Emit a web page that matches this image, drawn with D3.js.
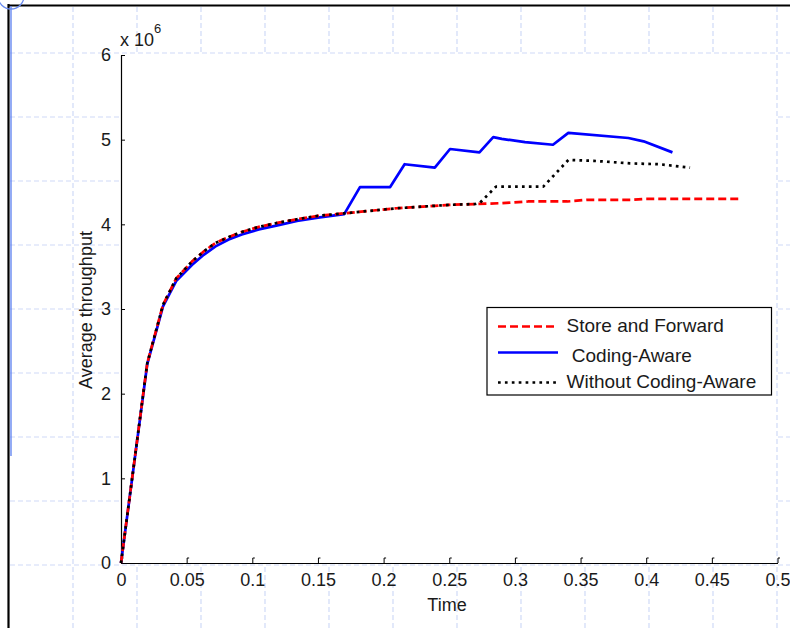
<!DOCTYPE html>
<html><head><meta charset="utf-8">
<script src="https://cdn.jsdelivr.net/npm/d3@7"></script>
<style>
html,body{margin:0;padding:0;background:#fff;}
text{font-family:"Liberation Sans",Arial,sans-serif;fill:#1a1a1a;}
</style></head>
<body>
<svg id="c" width="790" height="628"></svg>
<script>
// ---- data (values in units of 10^6) ----
const sfTime = [0,0.02,0.032,0.042,0.054,0.063,0.072,0.082,0.092,0.105,0.12,0.134,0.15,0.17,0.19,0.21,0.23,0.25,0.27,0.29,0.31,0.34,0.355,0.39,0.40,0.43,0.471];
const sfValue = [0,2.36,3.05,3.36,3.56,3.68,3.78,3.85,3.91,3.97,4.02,4.06,4.10,4.13,4.16,4.19,4.21,4.23,4.24,4.25,4.27,4.27,4.29,4.29,4.30,4.30,4.30];

const caTime = [0,0.02,0.032,0.042,0.054,0.063,0.072,0.082,0.092,0.105,0.12,0.134,0.15,0.17,0.182,0.205,0.216,0.239,0.2506,0.273,0.2835,0.29,0.3077,0.329,0.3407,0.3864,0.398,0.42];
const caValue = [0,2.35,3.03,3.33,3.52,3.64,3.74,3.82,3.88,3.94,3.99,4.04,4.08,4.12,4.44,4.44,4.71,4.67,4.89,4.85,5.03,5.01,4.97,4.94,5.08,5.02,4.98,4.85];

const woTime = [0,0.02,0.032,0.042,0.054,0.063,0.072,0.082,0.092,0.105,0.12,0.134,0.15,0.17,0.19,0.21,0.23,0.25,0.27,0.2734,0.2856,0.3216,0.3407,0.36,0.3877,0.41,0.4334];
const woValue = [0,2.36,3.05,3.36,3.56,3.68,3.78,3.85,3.91,3.97,4.02,4.06,4.10,4.13,4.16,4.19,4.21,4.23,4.24,4.255,4.445,4.445,4.76,4.75,4.72,4.71,4.67];

const xTicks = [0,0.05,0.1,0.15,0.2,0.25,0.3,0.35,0.4,0.45,0.5];
const xTickLabels = ["0","0.05","0.1","0.15","0.2","0.25","0.3","0.35","0.4","0.45","0.5"];
const yTicks = [0,1,2,3,4,5,6];
const yTickLabels = ["0","1","2","3","4","5","6"];
const seriesNames = ["Store and Forward"," Coding-Aware","Without Coding-Aware"];
const xLabel = "Time", yLabel = "Average throughput";

// ---- layout ----
const svg = d3.select("#c");
const W = 790, H = 628;
const x = d3.scaleLinear().domain([0,0.5]).range([121,777.5]);
const y = d3.scaleLinear().domain([0,6]).range([563,55]);

// page background grid (document guide lines)
const bg = svg.append("g");
const gridCol = "#cfdaf7";
d3.range(73, W, 64).forEach(gx => bg.append("line").attr("x1",gx).attr("x2",gx).attr("y1",7).attr("y2",H)
  .attr("stroke",gridCol).attr("stroke-width",1.2).attr("stroke-dasharray","5,3"));
d3.range(53, H, 64).forEach(gy => bg.append("line").attr("x1",10).attr("x2",W).attr("y1",gy).attr("y2",gy)
  .attr("stroke",gridCol).attr("stroke-width",1.2).attr("stroke-dasharray","5,3"));

// white plot area
svg.append("rect").attr("x",121).attr("y",55).attr("width",654).attr("height",508).attr("fill","#fff");

// page frame
svg.append("line").attr("x1",8.5).attr("x2",8.5).attr("y1",4).attr("y2",H).attr("stroke","#000").attr("stroke-width",2.2);
svg.append("line").attr("x1",8).attr("x2",W).attr("y1",5.5).attr("y2",5.5).attr("stroke","#000").attr("stroke-width",2.2);
svg.append("line").attr("x1",11).attr("x2",11).attr("y1",6).attr("y2",456).attr("stroke","#5a7ff0").attr("stroke-width",1.3);
svg.append("circle").attr("cx",11).attr("cy",-4).attr("r",13).attr("fill","none").attr("stroke","#6b8cf0").attr("stroke-width",1.3);

// axes
const xAxis = d3.axisBottom(x).tickValues(xTicks).tickFormat((d,i)=>xTickLabels[i]).tickSizeInner(-5).tickSizeOuter(0).tickPadding(10);
const gx = svg.append("g").attr("transform","translate(0,563)").call(xAxis);
gx.selectAll("text").style("font-size","18px").attr("fill","#1a1a1a");
gx.selectAll(".tick").append("line").attr("x1",0).attr("x2",2).attr("y1",-5).attr("y2",-5).attr("stroke","#000");
gx.select(".domain").attr("stroke","#000").attr("stroke-width",1.2);

const yAxis = d3.axisLeft(y).tickValues(yTicks).tickFormat((d,i)=>yTickLabels[i]).tickSizeInner(-4).tickSizeOuter(0).tickPadding(10);
const gy = svg.append("g").attr("transform","translate(121,0)").call(yAxis);
gy.selectAll("text").style("font-size","18px").attr("fill","#1a1a1a");
gy.select(".domain").attr("stroke","#000").attr("stroke-width",1.2);

// exponent
const ex = svg.append("text").attr("x",120).attr("y",46).style("font-size","18px");
ex.append("tspan").text("x 10");
ex.append("tspan").attr("dy",-13).style("font-size","13px").text("6");

// axis labels
svg.append("text").attr("x",447).attr("y",611).attr("text-anchor","middle").style("font-size","18px").text(xLabel);
svg.append("text").attr("transform","translate(92,310) rotate(-90)").attr("text-anchor","middle").style("font-size","18px").text(yLabel);

// series
const line = d3.line().x(d=>x(d[0])).y(d=>y(d[1]));
const styles = [
  {color:"#ff0000", dash:"8,4", w:2.7},
  {color:"#0000ff", dash:null, w:2.7},
  {color:"#000000", dash:"2.7,4.2", w:2.7}
];
const series = [
  d3.zip(sfTime, sfValue),
  d3.zip(caTime, caValue),
  d3.zip(woTime, woValue)
];
[1,0,2].forEach(i => {
  svg.append("path").datum(series[i]).attr("d",line).attr("fill","none")
    .attr("stroke",styles[i].color).attr("stroke-width",styles[i].w)
    .attr("stroke-dasharray",styles[i].dash).attr("stroke-linejoin","round");
});

// legend
const lg = svg.append("g");
lg.append("rect").attr("x",487).attr("y",307.5).attr("width",284.5).attr("height",87.5)
  .attr("fill","#fff").attr("stroke","#000").attr("stroke-width",1.2);
const rowY = [326.5, 352.5, 382.5];
const textY = [332, 361.5, 388];
seriesNames.forEach((n,i) => {
  lg.append("line").attr("x1",498).attr("x2",558).attr("y1",rowY[i]).attr("y2",rowY[i])
    .attr("stroke",styles[i].color).attr("stroke-width",styles[i].w).attr("stroke-dasharray",styles[i].dash);
  lg.append("text").attr("x",566.5).attr("y",textY[i]).style("font-size","19px").style("white-space","pre")
    .attr("xml:space","preserve").text(n);
});
</script>
</body></html>
